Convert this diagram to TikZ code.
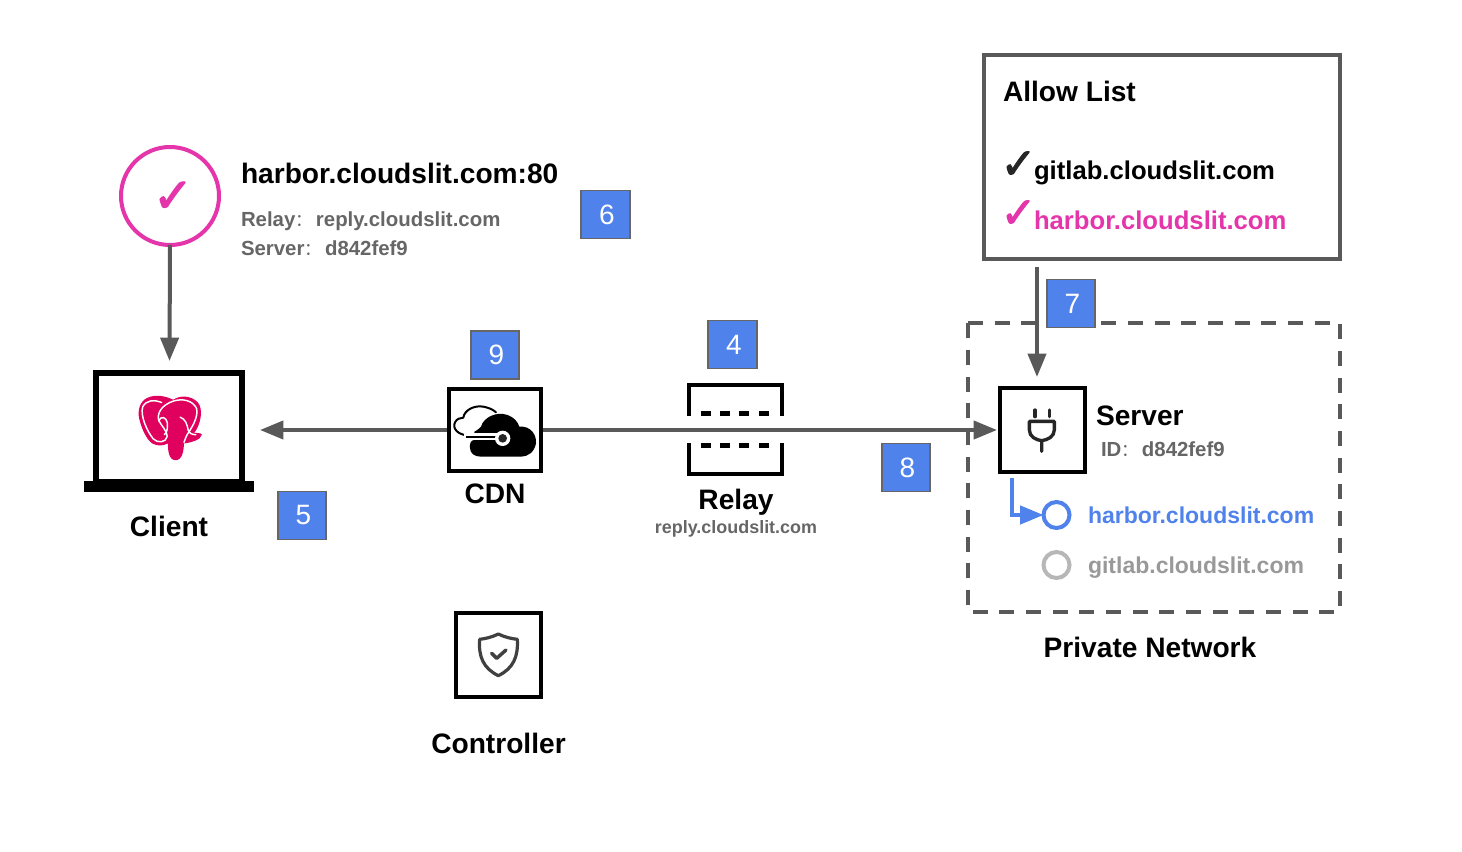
\documentclass[tikz,border=0pt]{standalone}
\usepackage{fontspec}
\setmainfont{Liberation Sans}
\newfontfamily\cjkf{Noto Sans CJK SC}
\newfontfamily\dejavu[FakeBold=2.5]{DejaVu Sans}
\usetikzlibrary{arrows.meta}
\definecolor{lnc}{HTML}{595959}
\definecolor{pinkc}{HTML}{E535AB}
\definecolor{bluec}{HTML}{4F82EA}
\definecolor{txtg}{HTML}{666666}
\definecolor{lgray}{HTML}{999999}
\definecolor{cgray}{HTML}{B7B7B7}
\definecolor{pgred}{HTML}{E0005E}
\newcommand\pxu{0.75pt}
\newcommand\fsz[1]{\fontsize{#1}{#1}\selectfont}
\newcommand\cc{{\cjkf\mdseries\fontsize{13}{13}\selectfont\hbox to 15.4pt{：\hss}}}
\tikzset{
  x=0.75pt,y=-0.75pt,
  lab/.style={font=\bfseries\fsz{21.1},inner sep=0,outer sep=0,anchor=base},
  mid/.style={font=\bfseries\fsz{19.25},inner sep=0,outer sep=0,anchor=base west},
  sma/.style={font=\bfseries\fsz{15.3},text=txtg,inner sep=0,outer sep=0,anchor=base west},
  dom/.style={font=\bfseries\fsz{17.25},inner sep=0,outer sep=0,anchor=base west},
  badge/.style={draw=txtg,line width=1.2pt,fill=bluec,text=white,font=\fsz{21},minimum width=48.5*\pxu,minimum height=48*\pxu,inner sep=0,outer sep=0,execute at begin node=\hspace*{2.25pt}},
  iconbox/.style 2 args={draw=black,line width=3.2pt,fill=white,inner sep=0,outer sep=0,minimum width=#1*\pxu,minimum height=#2*\pxu},
  flow/.style={draw=lnc,line width=3pt,-{Triangle[length=17.5pt,width=13.5pt]}},
  ring/.style={circle,fill=white,line width=3pt,inner sep=0,outer sep=0,minimum size=26*\pxu},
  chk/.style={font=\dejavu\fsz{#1},inner sep=0,outer sep=0}
}
\begin{document}
\begin{tikzpicture}
\useasboundingbox (0,0) rectangle (1462,852);
% private network frame
\draw[lnc,line width=3pt,dash pattern=on 11.25pt off 8.75pt] (968,323) -- (1340,323) -- (1340,612) -- (968,612) -- cycle;
% boxes
\node[draw=lnc,line width=3pt,fill=white,inner sep=0,outer sep=0,minimum width=356*\pxu,minimum height=204*\pxu] (allow) at (1162.3,157) {};
\node[circle,draw=pinkc,line width=3pt,fill=white,inner sep=0,outer sep=0,minimum size=98*\pxu] (okc) at (170,196) {};
\node[chk=36,text=pinkc] (okm) at (173,197) {✓};
% laptop
\node[draw=black,line width=4.5pt,fill=white,inner sep=0,outer sep=0,minimum width=146*\pxu,minimum height=109*\pxu] (laptop) at (168.5,427.5) {};
\node[fill=black,inner sep=0,outer sep=0,minimum width=170*\pxu,minimum height=11*\pxu] (base) at (168.5,486.5) {};
% connector ends
\coordinate (ctip) at (169.5,361);
\coordinate (ltip) at (260,430);
\coordinate (cdnl) at (447,430);
\coordinate (cdnr) at (543,430);
\coordinate (srvl) at (997,430);
\coordinate (alw) at (1037,267);
\coordinate (srvt) at (1037,377);
\coordinate (bstart) at (1012,478);
% relay
\node[inner sep=0,outer sep=0,minimum width=96*\pxu,minimum height=92*\pxu] (relay) at (735,429) {};
\draw[black,line width=3pt] (688.5,416) |- (781.5,385) -- (781.5,416);
\draw[black,line width=3pt] (688.5,443) |- (781.5,473.5) -- (781.5,443);
\draw[black,line width=3.4pt,dash pattern=on 7.5pt off 7.1pt] (700.5,413.5) -- (770,413.5);
\draw[black,line width=3.4pt,dash pattern=on 7.5pt off 7.1pt] (700.5,445.5) -- (770,445.5);
% connectors
\draw[flow] (okc.south) -- (ctip);
\draw[flow] (cdnl) -- (ltip);
\draw[flow] (cdnr) -- (srvl);
\draw[flow] (alw) -- (srvt);
% elephant
\begin{scope}[shift={(129.5,391)},x=0.262pt,y=-0.262pt]
\fill[pgred,line join=round] (50,20) .. controls (30,30) and (22,55) .. (28,80) .. controls (35,110) and (50,140) .. (65,150) .. controls (80,158) and (95,158) .. (110,150) .. controls (110,170) and (112,198) .. (132,198) .. controls (152,198) and (155,170) .. (156,150) .. controls (175,148) and (205,140) .. (207,125) .. controls (205,120) and (195,120) .. (185,120) .. controls (205,95) and (212,50) .. (195,32) .. controls (175,12) and (145,12) .. (125,25) .. controls (105,15) and (75,8) .. (50,20) -- cycle;
\begin{scope}[white,line width=1.1pt,line cap=round,line join=round]
\draw (92,33) .. controls (70,24) and (48,26) .. (38,45) .. controls (30,70) and (50,115) .. (68,137) .. controls (80,150) and (105,148) .. (108,130) .. controls (108,115) and (92,100) .. (84,85) .. controls (78,65) and (90,40) .. (128,28) .. controls (150,22) and (180,25) .. (192,50) .. controls (198,75) and (178,105) .. (165,125) .. controls (160,135) and (158,142) .. (156,147);
\draw (84,85) .. controls (90,70) and (105,75) .. (108,90) .. controls (110,105) and (108,118) .. (100,125);
\draw (145,75) .. controls (160,80) and (165,95) .. (168,112) .. controls (172,122) and (180,125) .. (190,125);
\end{scope}
\end{scope}
% CDN
\node[iconbox={91.5}{81.5}] (cdn) at (495,430) {};
\begin{scope}[shift={(446,395)},x=0.25pt,y=-0.25pt]
\draw[black,line width=1.5pt,line cap=round,line join=round] (75,122) .. controls (35,122) and (18,100) .. (27,82) .. controls (32,72) and (42,68) .. (52,68) .. controls (55,45) and (85,30) .. (112,35) .. controls (128,38) and (142,44) .. (150,52);
\fill[black] (72,160) .. controls (70,145) and (75,135) .. (85,135) -- (85,110) .. controls (95,105) and (100,100) .. (105,95) .. controls (112,68) and (150,48) .. (185,60) .. controls (205,68) and (215,80) .. (220,95) .. controls (255,92) and (272,120) .. (270,145) .. controls (265,172) and (245,185) .. (225,185) -- (105,185) .. controls (85,185) and (73,175) .. (72,160) -- cycle;
\draw[white,line width=5.4pt] (55,124.5) -- (165,124.5);
\draw[black,line width=1.5pt] (60,124.5) -- (150,124.5);
\fill[white] (170,130) circle (23);
\fill[black!85] (170,130) circle (13);
\end{scope}
% Server
\node[iconbox={84.5}{84}] (srv) at (1042.5,430) {};
\begin{scope}[shift={(960,260)},x=0.25pt,y=-0.25pt]
\draw[black!85,line width=2.5pt,line cap=round,line join=round] (225,450) -- (225,470) (268,450) -- (268,470);
\draw[black!85,line width=2.5pt,line cap=round,line join=round] (208,484) -- (283,484) -- (283,510) .. controls (283,530) and (262,540) .. (245,542) .. controls (228,540) and (208,530) .. (208,510) -- cycle (245,542) -- (245,574);
\end{scope}
% Controller
\node[iconbox={84.5}{84}] (ctl) at (498.5,655) {};
\begin{scope}[shift={(430,600)},x=0.25pt,y=-0.25pt]
\draw[black!75,line width=2.4pt,line join=round,line cap=round] (205,102) .. controls (185,112) and (165,116) .. (149,118) .. controls (145,170) and (160,205) .. (205,227) .. controls (250,205) and (265,170) .. (262,118) .. controls (245,116) and (225,112) .. (205,102) -- cycle;
\draw[black!75,line width=2.6pt,line join=round,line cap=round] (185,160) -- (200,175) -- (228,150);
\end{scope}
% blue link
\node[ring,draw=bluec] (harb) at (1056.5,515) {};
\node[ring,draw=cgray] (gitl) at (1056.5,565) {};
\draw[bluec,line width=3pt,-{Triangle[length=17.5pt,width=13.5pt]}] (bstart) |- (harb.west);
% badges
\node[badge] (b5) at (302,515.5) {5};
\node[badge] (b6) at (605.5,214.5) {6};
\node[badge] (b9) at (495,355) {9};
\node[badge] (b4) at (732.5,344.5) {4};
\node[badge] (b7) at (1071,303.5) {7};
\node[badge] (b8) at (906,467.5) {8};
% labels
\node[lab] (lclient) at (169,536) {Client};
\node[lab] (lcdn) at (495,503) {CDN};
\node[lab] (lrelay) at (736,509) {Relay};
\node[lab,font=\bfseries\fsz{13.45},text=txtg] (lreply) at (736,533) {reply.cloudslit.com};
\node[lab] (lctl) at (498.5,753) {Controller};
\node[lab] (lpriv) at (1150,657) {Private Network};
\node[lab,anchor=base west] (lsrv) at (1096,425) {Server};
\node[sma] (lid) at (1101,456) {ID\cc d842fef9};
\node[dom,text=bluec] (dh) at (1088,523) {harbor.cloudslit.com};
\node[dom,text=lgray] (dg) at (1088,573) {gitlab.cloudslit.com};
\node[lab,anchor=base west] (ltitle) at (241,184) {harbor.cloudslit.com:80};
\node[sma] (lr) at (241,227) {Relay\cc reply.cloudslit.com};
\node[sma] (ls) at (241,255) {Server\cc d842fef9};
\node[lab,anchor=base west] (lal) at (1003,102) {Allow List};
\node[mid] (lg) at (1034,180) {gitlab.cloudslit.com};
\node[mid,text=pinkc] (lh) at (1034,229.5) {harbor.cloudslit.com};
\node[chk=32,text=black!85] (cg) at (1018.5,165) {✓};
\node[chk=32,text=pinkc] (ch) at (1018.5,214) {✓};
\end{tikzpicture}
\end{document}
